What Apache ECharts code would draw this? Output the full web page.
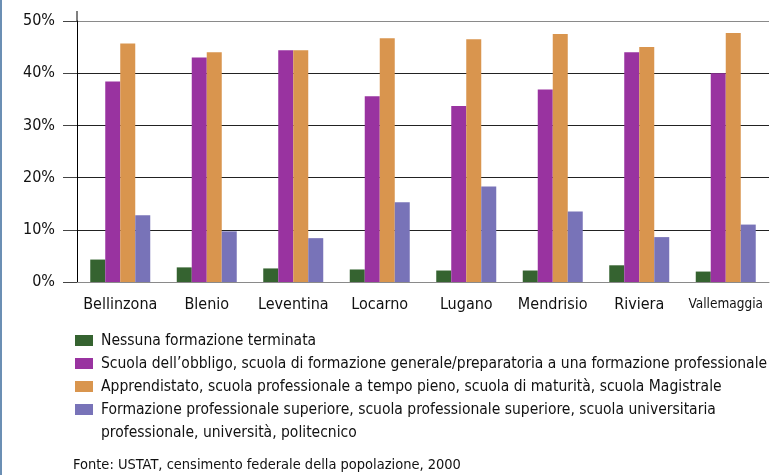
<!DOCTYPE html>
<html>
<head>
<meta charset="utf-8">
<script src="https://cdn.jsdelivr.net/npm/echarts@6/dist/echarts.min.js"></script>
<style>
  html, body { margin: 0; padding: 0; background: #fff; }
  #chart { width: 773px; height: 475px; }
  #edge { position: absolute; left: 0; top: 0; width: 2px; height: 475px; background: #6b8fb4; }
</style>
</head>
<body>
<div id="chart"></div>
<div id="edge"></div>
<script>
  var FONT = "'DejaVu Sans Condensed', 'DejaVu Sans', sans-serif";

  var regions = ['Bellinzona', 'Blenio', 'Leventina', 'Locarno', 'Lugano', 'Mendrisio', 'Riviera', 'Vallemaggia'];
  var nessuna = [4.3, 2.8, 2.6, 2.4, 2.2, 2.2, 3.2, 2.0];
  var obbligo = [38.4, 43.0, 44.4, 35.6, 33.7, 36.9, 44.0, 40.0];
  var apprendistato = [45.7, 44.0, 44.4, 46.7, 46.5, 47.5, 45.0, 47.7];
  var superiore = [12.8, 9.7, 8.4, 15.3, 18.3, 13.5, 8.6, 11.0];

  var names = [
    'Nessuna formazione terminata',
    'Scuola dell\u2019obbligo, scuola di formazione generale/preparatoria a una formazione professionale',
    'Apprendistato, scuola professionale a tempo pieno, scuola di maturit\u00e0, scuola Magistrale',
    'Formazione professionale superiore, scuola professionale superiore, scuola universitaria'
  ];
  var colors = ['#356330', '#9933a0', '#d9954e', '#7873b8'];
  var yTicks = [0, 10, 20, 30, 40, 50];

  function bar(name, data, color) {
    return {
      name: name,
      type: 'bar',
      data: data,
      barWidth: 15,
      barGap: '0%',
      itemStyle: { color: color }
    };
  }

  var chart = echarts.init(document.getElementById('chart'));
  chart.setOption({
    animation: false,
    textStyle: { fontFamily: FONT },
    grid: { left: 77, right: 4, top: 21, bottom: 193, containLabel: false },
    legend: {
      orient: 'vertical',
      left: 75,
      top: 329,
      padding: 0,
      itemWidth: 18,
      itemHeight: 11,
      itemGap: 0,
      icon: 'rect',
      selectedMode: false,
      textStyle: { fontFamily: FONT, fontSize: 15.5, lineHeight: 23, color: '#111', padding: [0, 0, 0, 3] },
      data: names
    },
    xAxis: {
      type: 'category',
      data: regions,
      axisLine: { lineStyle: { color: '#8a8a8a', width: 1 } },
      axisTick: { interval: 0, length: 9, lineStyle: { color: '#555' } },
      axisLabel: {
        interval: 0,
        margin: 15,
        fontFamily: FONT,
        fontSize: 16,
        color: '#111',
        formatter: function (v) {
          return v === 'Vallemaggia' ? '{s|' + v + '}' : v;
        },
        rich: { s: { fontSize: 13.5, fontFamily: FONT, color: '#111' } }
      }
    },
    yAxis: {
      type: 'value',
      min: 0,
      max: 50,
      interval: 10,
      axisLine: { show: true, lineStyle: { color: '#000', width: 1 } },
      axisTick: { show: true, length: 14, lineStyle: { color: '#444' } },
      axisLabel: {
        margin: 22,
        fontFamily: FONT,
        fontSize: 16,
        color: '#111',
        formatter: function (v) { return yTicks.indexOf(v) >= 0 ? v + '%' : ''; }
      },
      splitLine: {
        lineStyle: { color: ['#8a8a8a', '#222', '#222', '#222', '#222', '#8a8a8a'], width: 1 }
      }
    },
    graphic: [
      { type: 'line', shape: { x1: 77, y1: 11, x2: 77, y2: 21 }, style: { stroke: '#000', lineWidth: 1 } },
      { type: 'text', x: 101, y: 433, style: { text: 'professionale, universit\u00e0, politecnico', font: '15.5px ' + FONT, fill: '#111', verticalAlign: 'middle' } },
      { type: 'text', x: 73, y: 465, style: { text: 'Fonte: USTAT, censimento federale della popolazione, 2000', font: '14.5px ' + FONT, fill: '#111', verticalAlign: 'middle' } }
    ],
    series: [
      bar(names[0], nessuna, colors[0]),
      bar(names[1], obbligo, colors[1]),
      bar(names[2], apprendistato, colors[2]),
      bar(names[3], superiore, colors[3])
    ]
  });
</script>
</body>
</html>
